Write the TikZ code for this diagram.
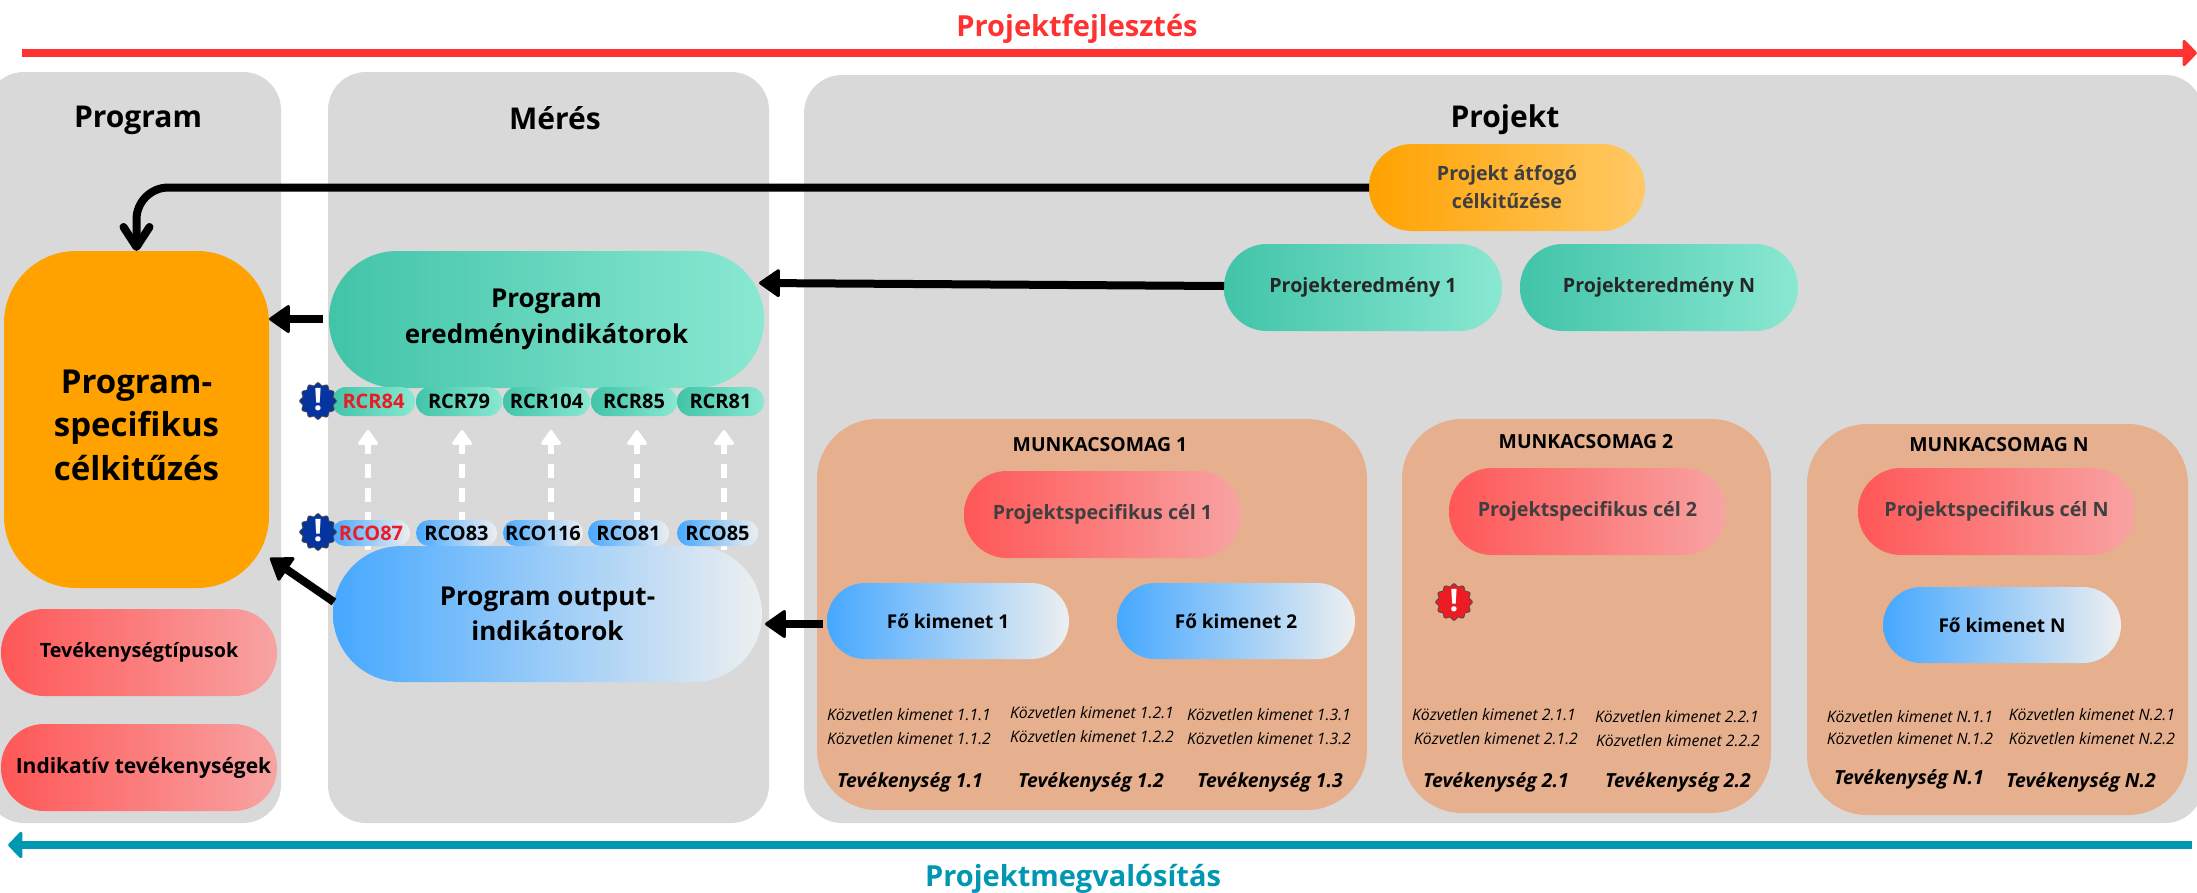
\documentclass[tikz,border=0pt]{standalone}
\usepackage{fontspec}
\setmainfont{Open Sans}
\usetikzlibrary{arrows.meta}
\definecolor{panel}{HTML}{D9D9D9}
\definecolor{wp}{HTML}{E6B08E}
\definecolor{dark}{HTML}{3F3F3F}
\definecolor{fred}{HTML}{FF3131}
\definecolor{fteal}{HTML}{0097B2}
\definecolor{orA}{HTML}{FFA200}
\definecolor{orB}{HTML}{FFC966}
\definecolor{grA}{HTML}{41C4A8}
\definecolor{grB}{HTML}{8AE8D2}
\definecolor{blA}{HTML}{46A8FF}
\definecolor{blB}{HTML}{EDEFF0}
\definecolor{reA}{HTML}{FF5757}
\definecolor{reB}{HTML}{F8A3A3}
\definecolor{badgeblue}{HTML}{05349E}
\definecolor{badgered}{HTML}{ED1C24}
\newcommand{\fsl}[2]{\fontsize{#1pt}{#2pt}\selectfont}
\newcommand{\fs}[1]{\fontsize{#1pt}{\the\dimexpr#1pt*5/4\relax}\selectfont}
\newcommand{\bx}[7]{\node[#6,minimum width={(#4-#2)*1pt},minimum height={(#5-#3)*1pt}] (#1) at ({(#2+#4)/2},{(#3+#5)/2}) {#7};}
\tikzset{
  x=1pt,y=-1pt,
  every node/.style={inner sep=0pt,outer sep=0pt,align=center},
  panelbox/.style={fill=panel,rounded corners=38pt},
  wpbox/.style={fill=wp,rounded corners=60pt},
  green/.style={left color=grA,right color=grB},
  blue/.style={left color=blA,right color=blB},
  rose/.style={left color=reA,right color=reB},
  amber/.style={left color=orA,right color=orB},
  big/.style={rounded corners=43pt,font=\bfseries\fs{19.7}},
  small/.style={rounded corners=14pt,font=\bfseries\fs{20}},
  title/.style={font=\bfseries\fs{30}},
  flow/.style={font=\bfseries\fs{29}},
  subt/.style={font=\itshape\fs{15.8}},
  act/.style={font=\bfseries\itshape\fs{19.4}},
  blk/.style={line width=8pt,-{Triangle[width=30pt,length=22pt,round,line width=3pt]}},
  barb/.style={line width=8pt,-{Straight Barb[length=20pt,width=26pt,round]}},
  dsh/.style={white,line width=6pt,dash pattern=on 14pt off 10pt,-{Triangle[width=22pt,length=16pt,round,line width=3pt]}},
  badge/.pic={
    \draw[fill=#1,draw=black!70,line width=0.8pt] plot[domain=0:360,samples=145,smooth] (\x:{17+1.3*cos(12*\x)}) -- cycle;
    \node[white,font=\bfseries\fs{31}] (-mark) at (0,-1) {!};
  }
}
\begin{document}
\begin{tikzpicture}
\useasboundingbox (0,0) rectangle (2197,892);
% panels
\bx{pProgram}{-14}{72}{281}{823}{panelbox}{}
\bx{pMeres}{328}{72}{769}{823}{panelbox}{}
\bx{pProjekt}{804}{75}{2203}{823}{panelbox}{}
\node[title] (tProgram) at (138,120) {Program};
\node[title] (tMeres) at (555,118) {Mérés};
\node[title] (tProjekt) at (1505,120) {Projekt};
% timeline arrows
\node (fejl) [text=fred,flow] at (1077,29) {Projektfejlesztés};
\node (megv) [text=fteal,flow] at (1073,879) {Projektmegvalósítás};
\coordinate (fa) at (22,53); \coordinate (fb) at (2197,53);
\coordinate (ma) at (2192,845); \coordinate (mb) at (8,845);
\draw[fred,line width=8pt,-{Triangle[width=30pt,length=15pt,round,line width=3pt]}] (fa) -- (fb);
\draw[fteal,line width=8pt,-{Triangle[width=30pt,length=15pt,round,line width=3pt]}] (ma) -- (mb);
% dashed arrows
\foreach \n/\xx in {1/368,2/462,3/551,4/637,5/724}{
  \coordinate (da\n) at (\xx,550);
  \coordinate (db\n) at (\xx,430);
  \draw[dsh] (da\n) -- (db\n);
}
% work packages
\bx{wp1}{817}{419}{1367}{810}{wpbox}{}
\bx{wp2}{1402}{419}{1771}{813}{wpbox}{}
\bx{wpN}{1807}{424}{2188}{815}{wpbox}{}
% program column
\bx{progcel}{4}{251}{269}{588}{fill=orA,rounded corners=72pt,font=\bfseries\fsl{33}{43.4}}{\rule{0pt}{35pt}Program-\\specifikus\\célkitűzés}
\bx{tevtip}{1}{609}{277}{696}{rose,big,text=black}{Tevékenységtípusok}
\bx{indik}{1}{724}{277}{811}{rose,big,text=black}{\fs{21}\hspace*{9pt}Indikatív tevékenységek}
% measuring
\bx{eredm}{329}{251}{764}{388}{green,rounded corners=68pt,font=\bfseries\fsl{26}{36}}{Program\\eredményindikátorok}
\bx{outp}{333}{546}{762}{682}{blue,rounded corners=68pt,font=\bfseries\fsl{26}{35}}{Program output-\\indikátorok}
\bx{rcr84}{332}{387}{415}{416}{green,small,text=badgered}{RCR84}
\bx{rcr79}{416}{387}{502}{416}{green,small}{RCR79}
\bx{rcr104}{503}{387}{590}{416}{green,small}{RCR104}
\bx{rcr85}{591}{387}{677}{416}{green,small}{RCR85}
\bx{rcr81}{677}{387}{764}{416}{green,small}{RCR81}
\bx{rco87}{332}{520}{410}{546}{blue,small,rounded corners=13pt,text=badgered}{RCO87}
\bx{rco83}{416}{520}{497}{546}{blue,small,rounded corners=13pt}{RCO83}
\bx{rco116}{503}{520}{583}{546}{blue,small,rounded corners=13pt}{RCO116}
\bx{rco81}{588}{520}{669}{546}{blue,small,rounded corners=13pt}{RCO81}
\bx{rco85}{677}{520}{758}{546}{blue,small,rounded corners=13pt}{RCO85}
\pic (b1) at (318,401) {badge=badgeblue};
\pic (b2) at (318,532) {badge=badgeblue};
\pic (b3) at (1454,602) {badge=badgered};
% project
\bx{atfogo}{1369}{144}{1645}{231}{amber,big,text=dark,font=\bfseries\fsl{19.7}{28}}{Projekt átfogó\\célkitűzése}
\bx{pe1}{1224}{244}{1502}{331}{green,big,text=black!85}{Projekteredmény 1}
\bx{peN}{1520}{244}{1798}{331}{green,big,text=black!85}{Projekteredmény N}
\node[font=\bfseries\fs{19.4}] (m1) at (1100,445) {MUNKACSOMAG 1};
\node[font=\bfseries\fs{19.4}] (m2) at (1586,442) {MUNKACSOMAG 2};
\node[font=\bfseries\fs{19.4}] (mN) at (1999,445) {MUNKACSOMAG N};
\bx{c1}{964}{471}{1241}{558}{rose,big,text=dark}{Projektspecifikus cél 1}
\bx{c2}{1449}{468}{1726}{555}{rose,big,text=dark}{Projektspecifikus cél 2}
\bx{cN}{1858}{468}{2135}{555}{rose,big,text=dark}{Projektspecifikus cél N}
\bx{f1}{827}{583}{1069}{659}{blue,rounded corners=38pt,font=\bfseries\fs{19}}{Fő kimenet 1}
\bx{f2}{1117}{583}{1355}{659}{blue,rounded corners=38pt,font=\bfseries\fs{19}}{Fő kimenet 2}
\bx{fN}{1883}{587}{2121}{663}{blue,rounded corners=38pt,font=\bfseries\fs{19}}{Fő kimenet N}
% direct outputs
\node[subt] (k111) at (909,715) {Közvetlen kimenet 1.1.1};
\node[subt] (k112) at (909,739) {Közvetlen kimenet 1.1.2};
\node[subt] (k121) at (1092,713) {Közvetlen kimenet 1.2.1};
\node[subt] (k122) at (1092,737) {Közvetlen kimenet 1.2.2};
\node[subt] (k131) at (1269,715) {Közvetlen kimenet 1.3.1};
\node[subt] (k132) at (1269,739) {Közvetlen kimenet 1.3.2};
\node[subt] (k211) at (1494,715) {Közvetlen kimenet 2.1.1};
\node[subt] (k212) at (1496,739) {Közvetlen kimenet 2.1.2};
\node[subt] (k221) at (1677,717) {Közvetlen kimenet 2.2.1};
\node[subt] (k222) at (1678,741) {Közvetlen kimenet 2.2.2};
\node[subt] (kn11) at (1910,717) {Közvetlen kimenet N.1.1};
\node[subt] (kn12) at (1910,739) {Közvetlen kimenet N.1.2};
\node[subt] (kn21) at (2092,715) {Közvetlen kimenet N.2.1};
\node[subt] (kn22) at (2092,739) {Közvetlen kimenet N.2.2};
\node[act] (t11) at (910,782) {Tevékenység 1.1};
\node[act] (t12) at (1091,782) {Tevékenység 1.2};
\node[act] (t13) at (1270,782) {Tevékenység 1.3};
\node[act] (t21) at (1496,782) {Tevékenység 2.1};
\node[act] (t22) at (1678,782) {Tevékenység 2.2};
\node[act] (tn1) at (1909,779) {Tevékenység N.1};
\node[act] (tn2) at (2081,782) {Tevékenység N.2};
% connectors
\coordinate (pa) at (323,319);
\coordinate (qa) at (334,602);
\coordinate (qb) at (270,558);
\coordinate (ra) at (823,624);
\coordinate (rb) at (765,624);
\coordinate (sa) at (1224,286);
\coordinate (sb) at (759,283);
\draw[barb,rounded corners=32pt] (atfogo.west) -| (progcel.north);
\draw[blk] (sa) -- (sb);
\draw[blk] (ra) -- (rb);
\draw[blk] (pa) -- (pa -| progcel.east);
\draw[blk] (qa) -- (qb);
\end{tikzpicture}
\end{document}
